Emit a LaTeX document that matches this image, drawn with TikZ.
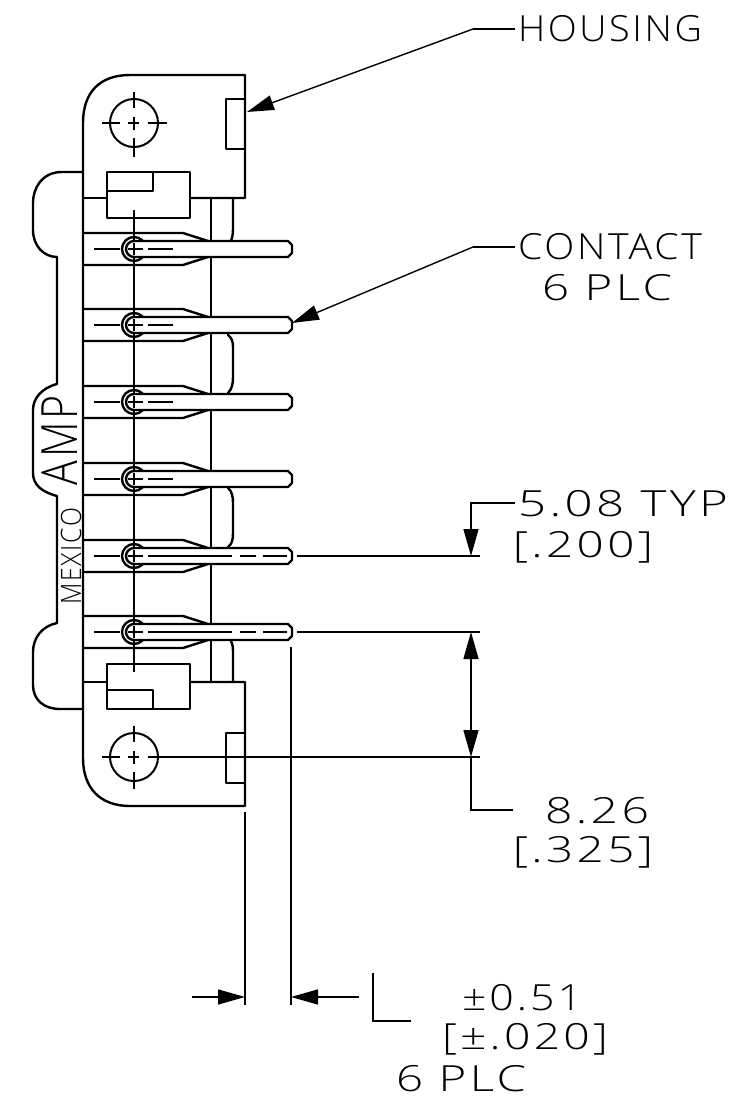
\documentclass[tikz,border=0pt]{standalone}
\usepackage{fontspec}
\setmainfont{Open Sans}[UprightFont={* Light},LetterSpace=7]
\usetikzlibrary{arrows.meta}
\newcommand{\pinfig}[2]{%
  \draw[thk] (83,#1-16) -- (183,#1-16) -- (208,#1-8);
  \draw[thk] (83,#1+16) -- (183,#1+16) -- (208,#1+8);
  \draw[thk,fill=white] (292,#1-4) -- (288,#1-8) -- (134,#1-8) arc[start angle=270,end angle=90,radius=8] -- (288,#1+8) -- (292,#1+4) -- cycle;
  \draw[thk] (142.5,#1-8.5) arc[start angle=315,end angle=45,radius=12];
  \draw[thn] (94,#1) -- (120,#1) (128,#1) -- (143,#1);
  #2
  \draw[thn] (134,#1-6) -- (134,#1+6);
}
\newcommand{\lab}[5]{\node[lab] (#1) at (#2,#3) {\resizebox{#4pt}{\height}{#5}};}
\tikzset{
  thk/.style={line width=2.4pt,line cap=round,line join=round},
  thn/.style={line width=1.4pt},
  lab/.style={inner sep=0pt,anchor=base,font=\fontsize{36}{36}\selectfont},
  arr/.style={-{Triangle[length=27pt,width=15pt]}},
  arrb/.style={{Triangle[length=27pt,width=15pt]}-{Triangle[length=27pt,width=15pt]}},
  x=1pt,y=-1pt
}
\begin{document}
\begin{tikzpicture}
\useasboundingbox (0,0) rectangle (741,1113);
\fill[white] (0,0) rectangle (741,1113);
% centre and structure lines
\draw[thn] (134,210) -- (134,672);
\draw[thk] (211,198) -- (211,682);
% housing top
\draw[thk] (83,709) -- (83,123) .. controls (83,92) and (100,75) .. (130,75) -- (245,75) -- (245,198) -- (190,198);
\draw[thk] (107,198) -- (83,198);
\draw[thk] (226,99) rectangle (245,149);
\draw[thk] (107,172) rectangle (190,218);
\draw[thk] (107,191) -- (153,191) -- (153,172);
\draw[thk] (233,198) -- (233,225) .. controls (233,232) and (233,236) .. (231,241);
\node[circle,draw,line width=2pt,minimum size=48pt,inner sep=0pt] (c1) at (134,123) {};
\draw[thn] (102,123) -- (120,123) (128,123) -- (139,123) (148,123) -- (167,123);
\draw[thn] (134,92) -- (134,108) (134,117) -- (134,130) (134,138) -- (134,157);
% housing bottom
\draw[thk] (83,709) -- (83,758) .. controls (83,788) and (100,806) .. (130,806) -- (245,806) -- (245,682) -- (190,682);
\draw[thk] (107,682) -- (83,682);
\draw[thk] (226,733) rectangle (245,783);
\draw[thk] (107,664) rectangle (190,709);
\draw[thk] (107,690) -- (153,690) -- (153,709);
\draw[thk] (233,682) -- (233,655) .. controls (233,648) and (233,645) .. (231,641);
\node[circle,draw,line width=2pt,minimum size=48pt,inner sep=0pt] (c2) at (134,757) {};
\draw[thn] (102,757) -- (120,757) (128,757) -- (139,757) (148,757) -- (480,757);
\draw[thn] (134,726) -- (134,742) (134,751) -- (134,764) (134,772) -- (134,789);
% bumps left
\draw[thk] (83,172) -- (62,172) .. controls (42,172) and (33,188) .. (33,203) -- (33,230) .. controls (33,246) and (44,257) .. (57,257) -- (57,384) .. controls (42,388) and (33,398) .. (33,410) -- (33,473) .. controls (33,485) and (42,492) .. (57,496) -- (57,623) .. controls (42,626) and (33,638) .. (33,652) -- (33,685) .. controls (33,700) and (44,709) .. (60,709) -- (83,709);
% bumps right
\draw[thk] (228,335) .. controls (232,338) and (233,342) .. (233,347) -- (233,377) .. controls (233,384) and (232,389) .. (228,393);
\draw[thk] (228,488) .. controls (232,491) and (233,497) .. (233,503) -- (233,533) .. controls (233,540) and (232,544) .. (228,547);
% pins
\pinfig{249}{\draw[thn] (148,249) -- (173,249);}
\pinfig{325}{\draw[thn] (148,325) -- (173,325);}
\pinfig{402}{\draw[thn] (148,402) -- (173,402);}
\pinfig{479}{\draw[thn] (148,479) -- (173,479);}
\pinfig{556}{\draw[thn] (148,556) -- (232,556) (240,556) -- (256,556) (263,556) -- (287,556);}
\pinfig{632}{\draw[thn] (148,632) -- (232,632) (240,632) -- (256,632) (263,632) -- (287,632);}
% AMP and MEXICO
\node[rotate=90,inner sep=0pt,anchor=base,font=\fontsize{50}{50}\selectfont] (amp) at (77,440) {\resizebox{90pt}{\height}{AMP}};
\node[rotate=90,inner sep=0pt,anchor=base,font=\fontsize{28}{28}\selectfont] (mex) at (81,556) {\resizebox{97pt}{\height}{MEXICO}};
% housing leader
\lab{t1}{610}{42}{184}{HOUSING}
\coordinate (h1) at (473,29);
\coordinate (h2) at (247,112);
\draw[thn] (515,29) -- (h1);
\draw[thn,arr] (h1) -- (h2);
% contact leader
\lab{t2}{610}{259}{184}{CONTACT}
\lab{t3}{607}{300}{130}{6 PLC}
\coordinate (k1) at (473,247);
\coordinate (k2) at (292,323);
\draw[thn] (515,247) -- (k1);
\draw[thn,arr] (k1) -- (k2);
% 5.08 dimension
\lab{t4}{623}{516}{210}{5.08 TYP}
\lab{t5}{583}{557}{140}{[.200]}
\coordinate (d1) at (515,503);
\coordinate (d2) at (471,503);
\coordinate (d3) at (471,556);
\draw[thn] (297,556) -- (480,556);
\draw[thn] (297,632) -- (480,632);
\draw[thn,arr] (d1) -- (d2) -- (d3);
% 8.26 dimension
\lab{t6}{597}{823}{104}{8.26}
\lab{t7}{583}{862}{140}{[.325]}
\coordinate (e1) at (471,632);
\coordinate (e2) at (471,757);
\coordinate (e3) at (471,810);
\coordinate (e4) at (513,810);
\draw[thn,arrb] (e1) -- (e2);
\draw[thn] (e2) -- (e3) -- (e4);
% tolerance dimension
\coordinate (f1) at (245,812);
\coordinate (f2) at (245,1005);
\coordinate (f3) at (291,647);
\coordinate (f4) at (291,1005);
\draw[thn] (f1) -- (f2);
\draw[thn] (f3) -- (f4);
\coordinate (g1) at (192,997);
\coordinate (g2) at (245,997);
\coordinate (g3) at (359,997);
\coordinate (g4) at (291,997);
\draw[thn,arr] (g1) -- (g2);
\draw[thn,arr] (g3) -- (g4);
\coordinate (l1) at (373,973);
\coordinate (l2) at (373,1021);
\coordinate (l3) at (411,1021);
\draw[thn] (l1) -- (l2) -- (l3);
\lab{t8}{522}{1010}{120}{±0.51}
\lab{t9}{525}{1049}{166}{[±.020]}
\lab{t10}{461}{1091}{130}{6 PLC}
\end{tikzpicture}
\end{document}
